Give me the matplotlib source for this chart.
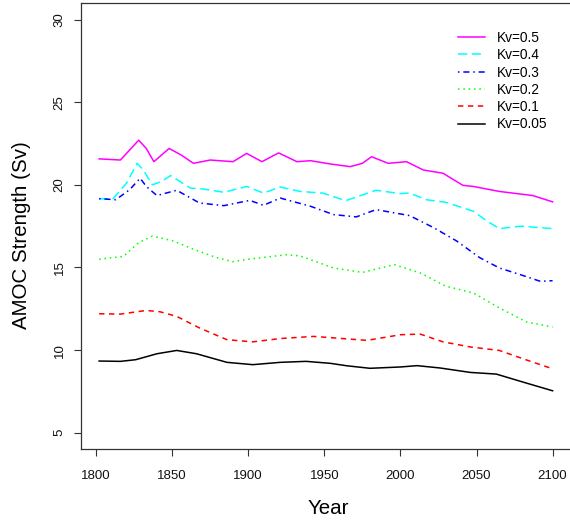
"""AMOC strength under different vertical diffusivities (Kv)."""
import matplotlib
matplotlib.use("Agg")
import matplotlib.pyplot as plt

plt.rcParams["font.family"] = ["Liberation Sans", "DejaVu Sans"]

# values, (year, Sv)
years_05 = [1802, 1816, 1822, 1828, 1833, 1838, 1843, 1848, 1856, 1864, 1875, 1890,
            1899, 1909, 1920, 1932, 1941, 1954, 1967, 1975, 1981, 1992, 2004, 2015,
            2028, 2041, 2048, 2065, 2087, 2100]
kv_05 = [21.57, 21.5, 22.1, 22.7, 22.2, 21.4, 21.8, 22.2, 21.8, 21.3, 21.5, 21.4,
         21.9, 21.4, 21.93, 21.4, 21.46, 21.26, 21.1, 21.3, 21.7, 21.3, 21.4, 20.9,
         20.7, 19.97, 19.9, 19.6, 19.35, 18.97]

years_04 = [1802, 1811, 1820, 1827, 1831, 1837, 1843, 1849, 1862, 1870, 1884, 1899,
            1910, 1921, 1934, 1949, 1964, 1984, 2000, 2006, 2017, 2030, 2048, 2057,
            2065, 2079, 2100]
kv_04 = [19.16, 19.14, 20.1, 21.3, 20.9, 20.0, 20.2, 20.56, 19.8, 19.75, 19.55, 19.9,
         19.5, 19.87, 19.6, 19.5, 19.04, 19.67, 19.47, 19.5, 19.1, 18.94, 18.4, 17.8,
         17.35, 17.5, 17.35]

years_03 = [1802, 1813, 1822, 1829, 1833, 1840, 1846, 1853, 1868, 1884, 1901, 1910,
            1921, 1941, 1956, 1971, 1984, 2006, 2022, 2037, 2052, 2065, 2079, 2092, 2100]
kv_03 = [19.16, 19.1, 19.7, 20.4, 19.9, 19.35, 19.5, 19.67, 18.9, 18.74, 19.06, 18.76,
         19.2, 18.7, 18.2, 18.06, 18.5, 18.14, 17.4, 16.6, 15.6, 14.97, 14.56, 14.16, 14.2]

years_02 = [1802, 1818, 1828, 1837, 1851, 1864, 1879, 1890, 1900, 1925, 1934, 1956,
            1975, 1996, 2013, 2030, 2048, 2065, 2083, 2100]
kv_02 = [15.5, 15.67, 16.5, 16.9, 16.6, 16.1, 15.6, 15.35, 15.5, 15.77, 15.7, 14.97,
         14.7, 15.17, 14.67, 13.86, 13.46, 12.55, 11.7, 11.4]

years_01 = [1802, 1816, 1833, 1842, 1853, 1868, 1886, 1903, 1921, 1943, 1978, 2000,
            2013, 2028, 2046, 2065, 2083, 2100]
kv_01 = [12.2, 12.18, 12.4, 12.32, 12.04, 11.34, 10.63, 10.5, 10.7, 10.83, 10.59, 10.93,
         10.97, 10.5, 10.19, 9.98, 9.4, 8.87]

years_005 = [1802, 1816, 1826, 1840, 1853, 1866, 1886, 1903, 1921, 1938, 1954, 1965,
             1980, 2000, 2011, 2026, 2046, 2063, 2083, 2100]
kv_005 = [9.34, 9.32, 9.42, 9.78, 9.98, 9.78, 9.26, 9.12, 9.26, 9.32, 9.2, 9.05,
          8.9, 8.98, 9.06, 8.92, 8.65, 8.55, 8.0, 7.54]

series = [
    ("Kv=0.5", years_05, kv_05, "#FF00FF", "-"),
    ("Kv=0.4", years_04, kv_04, "#00FFFF", (0, (6, 3))),
    ("Kv=0.3", years_03, kv_03, "#0000FF", (0, (1, 2.5, 4, 2.5))),
    ("Kv=0.2", years_02, kv_02, "#00FF00", (0, (1, 2.5))),
    ("Kv=0.1", years_01, kv_01, "#FF0000", (0, (3.5, 3))),
    ("Kv=0.05", years_005, kv_005, "#000000", "-"),
]

fig = plt.figure(figsize=(5.7, 5.25), dpi=100)
ax = fig.add_axes([81 / 570, 0.1442, 490 / 570, 0.8501])

for label, x, y, color, ls in series:
    ax.plot(x, y, color=color, linestyle=ls, linewidth=1.1, label=label,
            solid_joinstyle="round")

ax.set_xlim(1790.1, 2112.1)
ax.set_ylim(4, 31)
ax.set_xticks(range(1800, 2101, 50))
ax.set_yticks(range(5, 31, 5))
ax.spines["right"].set_visible(False)
for side in ("left", "top", "bottom"):
    ax.spines[side].set_color("#333333")
    ax.spines[side].set_linewidth(0.9)
ax.tick_params(direction="out", length=5, width=0.8, color="#333333",
               labelsize=9.5, labelcolor="#111111")
ax.tick_params(axis="x", pad=10)
ax.tick_params(axis="y", pad=6)
plt.setp(ax.get_yticklabels(), rotation=90, va="center")

fig.text(328 / 570, 1 - 508 / 525, "Year", ha="center", va="center", fontsize=14.8)
fig.text(22 / 570, 1 - 235 / 525, "AMOC Strength (Sv)", ha="center", va="center",
         rotation=90, fontsize=14.8)

ax.legend(loc="upper left", bbox_to_anchor=(458 / 570, 1 - 31 / 525),
          bbox_transform=fig.transFigure, frameon=False, fontsize=9.9,
          handlelength=1.96, handletextpad=0.87, labelspacing=0.24,
          borderpad=0, borderaxespad=0)

fig.savefig("out.png", dpi=100)
